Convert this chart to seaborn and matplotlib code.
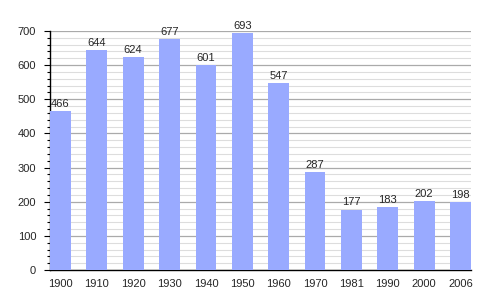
import matplotlib
matplotlib.use("Agg")
import matplotlib.pyplot as plt
import seaborn as sns
import pandas as pd
from matplotlib.ticker import MultipleLocator

years = ["1900", "1910", "1920", "1930", "1940", "1950", "1960", "1970", "1981", "1990", "2000", "2006"]
population = [466, 644, 624, 677, 601, 693, 547, 287, 177, 183, 202, 198]

sns.set_style("white")
plt.rcParams['font.family'] = ['Liberation Sans', 'DejaVu Sans']

df = pd.DataFrame({"year": years, "pop": population})
fig = plt.figure(figsize=(5, 3), dpi=100)
ax = fig.add_axes([0.1, 0.1, 0.842, 0.797])
width = 0.57
sns.barplot(data=df, x="year", y="pop", color="#99aaff", saturation=1, width=width,
            linewidth=0, edgecolor="none", ax=ax, zorder=3)
ax.set_xlim(-width / 2, len(years) - 1 + width / 2)
ax.set_ylim(0, 700)
ax.yaxis.set_major_locator(MultipleLocator(100))
ax.yaxis.set_minor_locator(MultipleLocator(20))
ax.grid(which="major", axis="y", color="#aaaaaa", linewidth=0.9, zorder=0)
ax.grid(which="minor", axis="y", color="#dddddd", linewidth=0.8, zorder=0)
ax.set_axisbelow(True)
for s in ["top", "right"]:
    ax.spines[s].set_visible(False)
for s in ["left", "bottom"]:
    ax.spines[s].set_color("black")
    ax.spines[s].set_linewidth(1.0)
ax.tick_params(axis="y", which="major", left=True, length=4, width=0.8, color="black", labelsize=8, pad=6)
ax.tick_params(axis="y", which="minor", left=True, length=2.5, width=0.8, color="black")
ax.tick_params(axis="x", bottom=False, labelsize=8, pad=3)
ax.set_xlabel("")
ax.set_ylabel("")
for i, v in enumerate(population):
    ax.text(i, v + 6, str(v), ha="center", va="bottom", fontsize=8)
fig.savefig("out.png", dpi=100)
